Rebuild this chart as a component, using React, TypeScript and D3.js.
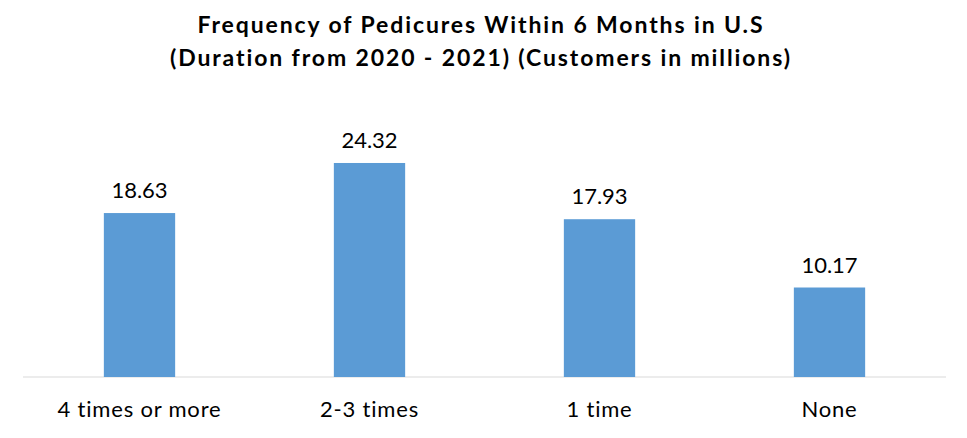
import React from "react";
import * as d3 from "d3";

const categories = ["4 times or more", "2-3 times", "1 time", "None"];
const values = [18.63, 24.32, 17.93, 10.17];
const titleLines = [
  "Frequency of Pedicures Within 6 Months in U.S",
  "(Duration from 2020 - 2021) (Customers in millions)",
];
const titleWidths = [565, 620];

const W = 967;
const H = 438;
const FONT = "Lato, 'Open Sans', sans-serif";

export default function App() {
  const x = d3.scaleBand<string>().domain(categories).range([24.5, 944.5]).paddingInner(0.69).paddingOuter(0.345);
  const y = d3.scaleLinear().domain([0, 30]).range([377, 113]);
  return (
    <svg width={W} height={H} style={{ position: "absolute", left: 0, top: 0, background: "#fff", fontVariantLigatures: "none" }}>
      <rect x={0} y={0} width={W} height={H} fill="#fff" />
      {titleLines.map((t, i) => (
        <text
          key={i}
          x={480}
          y={33 + i * 33}
          textAnchor="middle"
          fontFamily={FONT}
          fontWeight="bold"
          fontSize={23}
          fill="#000"
          textLength={titleWidths[i]}
          lengthAdjust="spacing"
        >
          {t}
        </text>
      ))}
      <line x1={23} x2={946} y1={y(0)} y2={y(0)} stroke="#d9d9d9" strokeWidth={1} />
      {categories.map((c, i) => (
        <g key={c}>
          <rect x={x(c)} y={y(values[i])} width={x.bandwidth()} height={y(0) - y(values[i])} fill="#5B9BD5" />
          <text x={(x(c) as number) + x.bandwidth() / 2} y={y(values[i]) - 15} textAnchor="middle" fontFamily={FONT} fontSize={22} fill="#000">
            {values[i].toFixed(2)}
          </text>
          <text x={(x(c) as number) + x.bandwidth() / 2} y={417} textAnchor="middle" fontFamily={FONT} fontSize={22} letterSpacing={0.8} fill="#000">
            {c}
          </text>
        </g>
      ))}
    </svg>
  );
}
